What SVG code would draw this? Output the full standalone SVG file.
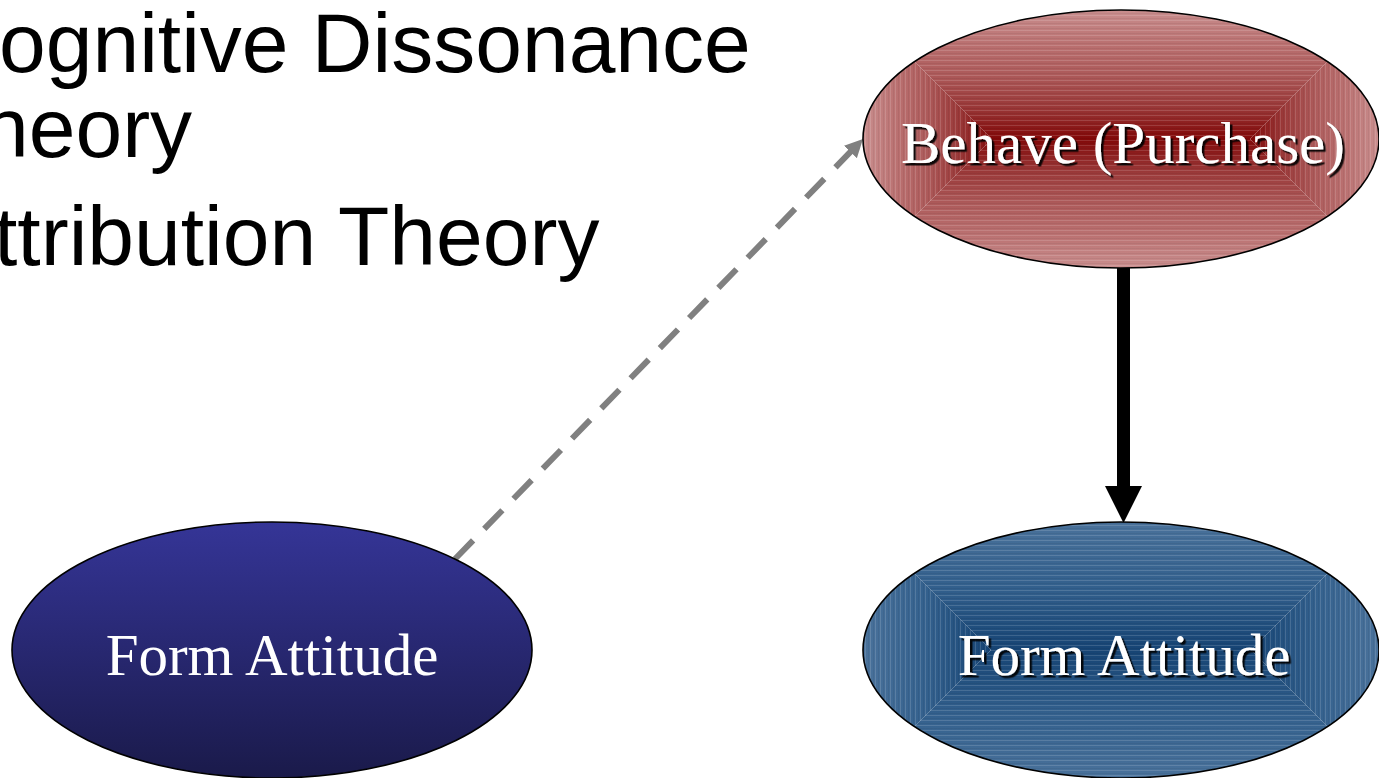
<svg xmlns="http://www.w3.org/2000/svg" width="1379" height="778" viewBox="0 0 1379 778">
  <style>
    .title { font-family: "Liberation Sans", Arial, sans-serif; font-size: 84px; fill: #000; }
    .label { font-family: "Liberation Serif", "Times New Roman", serif; font-size: 59px; fill: #fff; text-anchor: middle; }
    .outline { fill: none; stroke: #000; stroke-width: 1.6; }
  </style>
  <defs>
    <linearGradient id="redStops">
      <stop offset="0" stop-color="#c98e8e"/>
      <stop offset="0.25" stop-color="#bb7272"/>
      <stop offset="0.5" stop-color="#ad5a5a"/>
      <stop offset="0.75" stop-color="#9a3838"/>
      <stop offset="1" stop-color="#820808"/>
    </linearGradient>
    <linearGradient id="redT" href="#redStops" x1="0" y1="0" x2="0" y2="1"/>
    <linearGradient id="redB" href="#redStops" x1="0" y1="1" x2="0" y2="0"/>
    <linearGradient id="redL" href="#redStops" x1="0" y1="0" x2="1" y2="0"/>
    <linearGradient id="redR" href="#redStops" x1="1" y1="0" x2="0" y2="0"/>
    <linearGradient id="blueStops">
      <stop offset="0" stop-color="#4a729b"/>
      <stop offset="0.5" stop-color="#33608d"/>
      <stop offset="1" stop-color="#164474"/>
    </linearGradient>
    <linearGradient id="blueT" href="#blueStops" x1="0" y1="0" x2="0" y2="1"/>
    <linearGradient id="blueB" href="#blueStops" x1="0" y1="1" x2="0" y2="0"/>
    <linearGradient id="blueL" href="#blueStops" x1="0" y1="0" x2="1" y2="0"/>
    <linearGradient id="blueR" href="#blueStops" x1="1" y1="0" x2="0" y2="0"/>
    <linearGradient id="navy" x1="0" y1="0" x2="0" y2="1">
      <stop offset="0" stop-color="#353597"/>
      <stop offset="1" stop-color="#1a1a4a"/>
    </linearGradient>
    <pattern id="hStripe" patternUnits="userSpaceOnUse" width="8" height="5">
      <rect y="0" width="8" height="1" fill="#fff" fill-opacity="0.14"/>
      <rect y="3" width="8" height="1" fill="#000" fill-opacity="0.05"/>
    </pattern>
    <pattern id="vStripe" patternUnits="userSpaceOnUse" width="5" height="8">
      <rect x="0" width="1" height="8" fill="#fff" fill-opacity="0.14"/>
      <rect x="3" width="1" height="8" fill="#000" fill-opacity="0.05"/>
    </pattern>
    <clipPath id="clipRed"><ellipse cx="1121" cy="139" rx="258" ry="129"/></clipPath>
    <clipPath id="clipBlue"><ellipse cx="1121" cy="650" rx="258" ry="128"/></clipPath>
    <filter id="shadow" x="-10%" y="-20%" width="120%" height="140%">
      <feDropShadow dx="2.5" dy="2.5" stdDeviation="0.6" flood-color="#000" flood-opacity="0.9"/>
    </filter>
    <marker id="headBlack" markerUnits="userSpaceOnUse" markerWidth="37" markerHeight="37" viewBox="0 0 37 37" refX="4" refY="18.5" orient="auto">
      <path d="M0,0 L37,18.5 L0,37 Z" fill="#000"/>
    </marker>
    <marker id="headGray" markerUnits="userSpaceOnUse" markerWidth="18" markerHeight="18" viewBox="0 0 18 18" refX="8" refY="9" orient="auto">
      <path d="M0,0 L18,9 L0,18 Z" fill="#808080"/>
    </marker>
  </defs>

  <rect width="1379" height="778" fill="#fff"/>

  <g id="title-text">
    <text class="title" x="-1" y="72">ognitive Dissonance</text>
    <text class="title" x="-18" y="157">heory</text>
    <text class="title" x="-6" y="265">ttribution Theory</text>
  </g>

  <g id="connectors">
    <line x1="1123.5" y1="268" x2="1123.5" y2="490" stroke="#000" stroke-width="13" marker-end="url(#headBlack)"/>
    <line x1="455" y1="559" x2="856" y2="146.2" stroke="#808080" stroke-width="6" stroke-dasharray="26 16" marker-end="url(#headGray)"/>
  </g>

  <g id="node-behave">
    <g clip-path="url(#clipRed)">
      <polygon points="863,10 1379,10 1250,139 992,139" fill="url(#redT)"/>
      <polygon points="863,268 1379,268 1250,139 992,139" fill="url(#redB)"/>
      <polygon points="863,10 992,139 863,268" fill="url(#redL)"/>
      <polygon points="1379,10 1250,139 1379,268" fill="url(#redR)"/>
      <polygon points="863,10 1379,10 1250,139 992,139" fill="url(#hStripe)"/>
      <polygon points="863,268 1379,268 1250,139 992,139" fill="url(#hStripe)"/>
      <polygon points="863,10 992,139 863,268" fill="url(#vStripe)"/>
      <polygon points="1379,10 1250,139 1379,268" fill="url(#vStripe)"/>
    </g>
    <ellipse class="outline" cx="1121" cy="139" rx="258" ry="129"/>
    <text class="label" x="1123" y="163" filter="url(#shadow)">Behave (Purchase)</text>
  </g>

  <g id="node-form-attitude-right">
    <g clip-path="url(#clipBlue)">
      <polygon points="863,522 1379,522 1251,650 991,650" fill="url(#blueT)"/>
      <polygon points="863,778 1379,778 1251,650 991,650" fill="url(#blueB)"/>
      <polygon points="863,522 991,650 863,778" fill="url(#blueL)"/>
      <polygon points="1379,522 1251,650 1379,778" fill="url(#blueR)"/>
      <polygon points="863,522 1379,522 1251,650 991,650" fill="url(#hStripe)"/>
      <polygon points="863,778 1379,778 1251,650 991,650" fill="url(#hStripe)"/>
      <polygon points="863,522 991,650 863,778" fill="url(#vStripe)"/>
      <polygon points="1379,522 1251,650 1379,778" fill="url(#vStripe)"/>
    </g>
    <ellipse class="outline" cx="1121" cy="650" rx="258" ry="128"/>
    <text class="label" x="1124" y="675" filter="url(#shadow)">Form Attitude</text>
  </g>

  <g id="node-form-attitude-left">
    <ellipse cx="272" cy="650" rx="260" ry="128" fill="url(#navy)" stroke="#000" stroke-width="1.6"/>
    <text class="label" x="272" y="675">Form Attitude</text>
  </g>
</svg>
